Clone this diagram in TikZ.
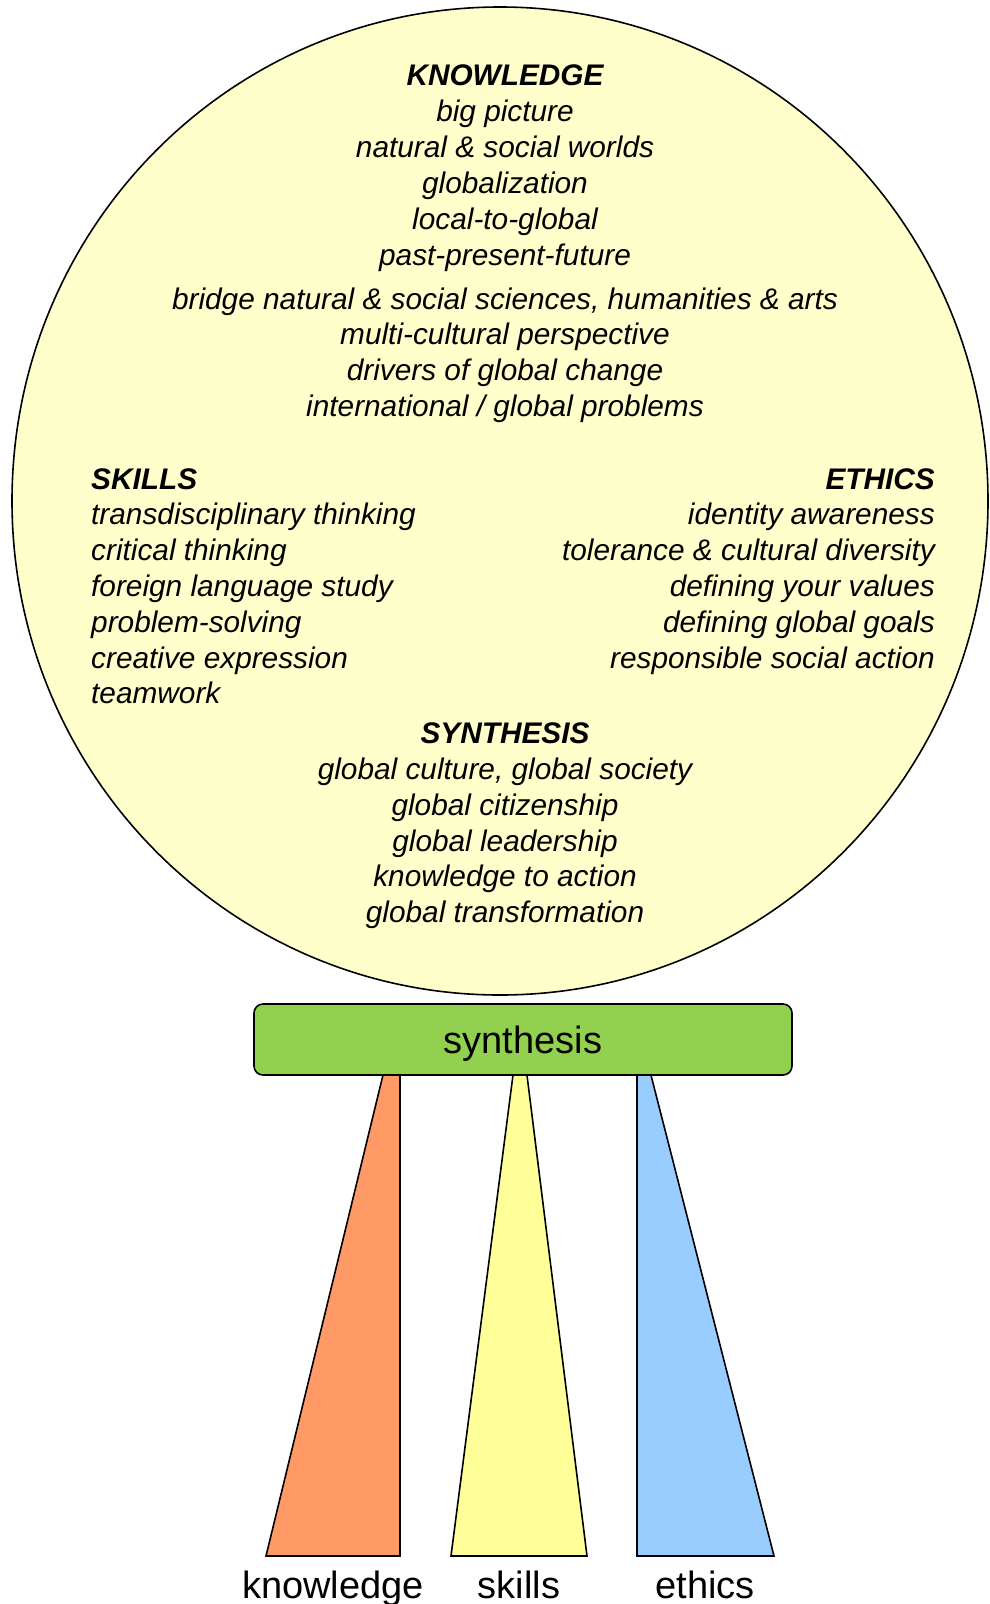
\documentclass[tikz,border=0pt]{standalone}
\usepackage{fontspec}
\setmainfont{Liberation Sans}
\usepackage{tikz}
\usepackage{xcolor}
\usetikzlibrary{shapes.geometric}
\definecolor{globefill}{HTML}{FFFFCC}
\definecolor{synthfill}{HTML}{92D050}
\definecolor{knowfill}{HTML}{FF9966}
\definecolor{skillfill}{HTML}{FFFF99}
\definecolor{ethicfill}{HTML}{99CCFF}

\begin{document}
\begin{tikzpicture}[x=1pt,y=-1pt]
\useasboundingbox (0,0) rectangle (990,1604);
\begin{scope}[every node/.style={ellipse,draw=black,line width=1.6pt,fill=globefill,inner sep=0pt}]
\node (GLOBE-1) at (500.0,501.0) [minimum width=976pt,minimum height=988pt] {};
\end{scope}
\begin{scope}[every path/.style={draw=black,line width=1.6pt,line join=miter}]
\path [fill=knowfill] (391.5,1040.0) -- (400.0,1040.0) -- (400.0,1556.0) -- (266.0,1556.0) -- cycle;
\path [fill=skillfill] (517.5,1040.0) -- (522.6,1040.0) -- (587.0,1556.0) -- (451.0,1556.0) -- cycle;
\path [fill=ethicfill] (637.0,1040.0) -- (642.0,1040.0) -- (774.0,1556.0) -- (637.0,1556.0) -- cycle;
\end{scope}
\begin{scope}[every node/.style={rectangle,rounded corners=9pt,draw=black,line width=1.6pt,fill=synthfill,text depth=0pt,font=\fontsize{38}{44}\selectfont}]
\node (BOX-1) at (523.0,1039.5) [minimum width=538pt,minimum height=71pt] {synthesis};
\end{scope}
\begin{scope}[every node/.style={anchor=base,inner sep=0pt,font=\fontsize{38}{44}\selectfont}]
\node (LEG-1) at (333.0,1598.0) {knowledge};
\node (LEG-2) at (519.0,1598.0) {skills};
\node (LEG-3) at (705.0,1598.0) {ethics};
\end{scope}
\begin{scope}[every node/.style={anchor=base,inner sep=0pt,font=\fontsize{29.8}{35}\selectfont\itshape}]
\node (KNOW-0) at (505.0,85.0) {\bfseries KNOWLEDGE};
\node (KNOW-1) at (505.0,121.0) {big picture};
\node (KNOW-2) at (505.0,157.0) {natural \& social worlds};
\node (KNOW-3) at (505.0,193.0) {globalization};
\node (KNOW-4) at (505.0,229.0) {local-to-global};
\node (KNOW-5) at (505.0,265.0) {past-present-future};
\node (KNOW-6) at (505.0,309.0) {bridge natural \& social sciences, humanities \& arts};
\node (KNOW-7) at (505.0,344.0) {multi-cultural perspective};
\node (KNOW-8) at (505.0,380.0) {drivers of global change};
\node (KNOW-9) at (505.0,416.0) {international / global problems};
\node (SYNTH-0) at (505.0,743.0) {\bfseries SYNTHESIS};
\node (SYNTH-1) at (505.0,779.0) {global culture, global society};
\node (SYNTH-2) at (505.0,815.0) {global citizenship};
\node (SYNTH-3) at (505.0,851.0) {global leadership};
\node (SYNTH-4) at (505.0,886.0) {knowledge to action};
\node (SYNTH-5) at (505.0,922.0) {global transformation};
\end{scope}
\begin{scope}[every node/.style={anchor=base west,inner sep=0pt,font=\fontsize{29.8}{35}\selectfont\itshape}]
\node (SKILL-0) at (91.0,489.0) {\bfseries SKILLS};
\node (SKILL-1) at (91.0,524.0) {transdisciplinary thinking};
\node (SKILL-2) at (91.0,560.0) {critical thinking};
\node (SKILL-3) at (91.0,596.0) {foreign language study};
\node (SKILL-4) at (91.0,632.0) {problem-solving};
\node (SKILL-5) at (91.0,668.0) {creative expression};
\node (SKILL-6) at (91.0,703.0) {teamwork};
\end{scope}
\begin{scope}[every node/.style={anchor=base east,inner sep=0pt,font=\fontsize{29.8}{35}\selectfont\itshape}]
\node (ETHIC-0) at (935.0,489.0) {\bfseries ETHICS};
\node (ETHIC-1) at (935.0,524.0) {identity awareness};
\node (ETHIC-2) at (935.0,560.0) {tolerance \& cultural diversity};
\node (ETHIC-3) at (935.0,596.0) {defining your values};
\node (ETHIC-4) at (935.0,632.0) {defining global goals};
\node (ETHIC-5) at (935.0,668.0) {responsible social action};
\end{scope}
\end{tikzpicture}
\end{document}
